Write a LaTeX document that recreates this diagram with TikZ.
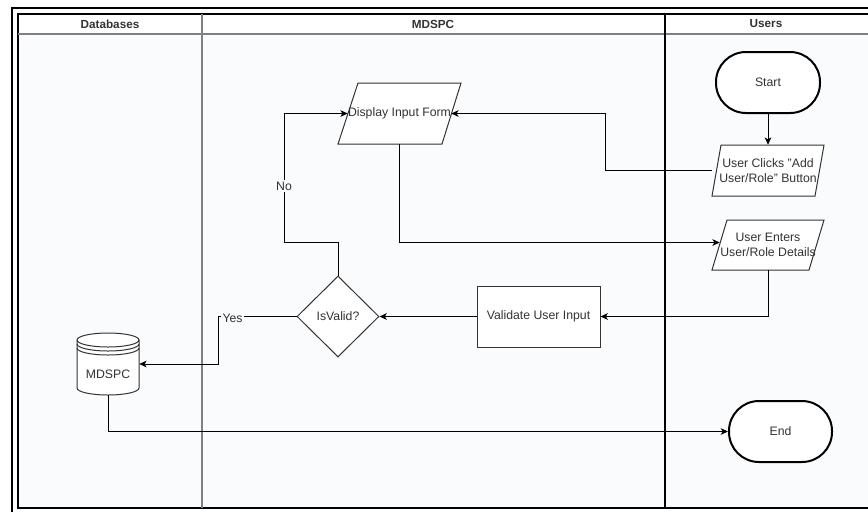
\documentclass[tikz,border=0pt]{standalone}
\usepackage{fontspec}
\setmainfont{Liberation Sans}
\usetikzlibrary{arrows.meta,shapes.geometric,calc}
\definecolor{txt}{RGB}{51,51,51}
\definecolor{lanebg}{RGB}{250,251,252}
\definecolor{divgray}{RGB}{128,128,128}
\tikzset{
  base/.style={font=\fontsize{9.2pt}{11.4pt}\selectfont, text=txt, inner sep=0pt, align=center},
  term/.style={base, draw=black, line width=1.5pt, fill=white, rectangle, rounded corners=22.5pt},
  procbox/.style={base, draw=txt, line width=0.75pt, fill=white, rectangle},
  decide/.style={base, draw=txt, line width=0.75pt, fill=white, diamond},
  ghost/.style={base, rectangle},
  conn/.style={draw=black, line width=0.75pt, -{Stealth[length=5.5pt,width=5pt,inset=1.5pt]}},
  lbl/.style={base, fill=lanebg, inner sep=1pt},
  hdr/.style={font=\bfseries\fontsize{8.8pt}{10pt}\selectfont, text=txt, inner sep=0pt}
}
\begin{document}
\begin{tikzpicture}[x=0.75pt,y=-0.75pt]
\useasboundingbox (0,0) rectangle (868,512);
% lanes background
\fill[lanebg] (18,34) rectangle (868,508);
\fill[white] (18,14) rectangle (868,34);
% outer frame
\draw[black, line width=1.3pt] (12,512) -- (12,8) -- (868,8);
% inner table
\draw[black, line width=0.8pt] (868,14) -- (18,14) -- (18,508) -- (868,508);
\draw[divgray, line width=1.1pt] (18,34) -- (868,34);
\draw[divgray, line width=1.1pt] (202,14) -- (202,508);
\draw[black, line width=0.8pt] (665,14) -- (665,508);
% headers
\node[hdr] (hdb) at (110,24) {Databases};
\node[hdr] (hmd) at (433,24) {MDSPC};
\node[hdr] (hus) at (766,24) {Users};

% nodes
\node[term, minimum width=78pt, minimum height=45.75pt] (start) at (768,82.5) {Start};
\node[term, minimum width=77.25pt, minimum height=45.75pt] (end) at (780.5,431.5) {End};
\node[procbox, minimum width=92.25pt, minimum height=45.75pt] (valid) at (538.5,316.5) {Validate User Input};
\node[decide, minimum width=61.5pt, minimum height=60.75pt] (isvalid) at (338,316.5) {IsValid?};

% parallelogram nodes (bounding boxes)
\node[ghost, minimum width=92.25pt, minimum height=45.75pt] (disp) at (399.5,113.5) {};
\draw[txt, line width=0.75pt, fill=white] (358,83) -- (461,83) -- (442,144) -- (338,144) -- cycle;
\node[base] at (disp) {Display Input Form};

\node[ghost, minimum width=84pt, minimum height=38.25pt] (clicks) at (768,170.5) {};
\draw[txt, line width=0.75pt, fill=white] (721,145) -- (824,145) -- (815,196) -- (712,196) -- cycle;
\node[base] at (clicks) {User Clicks "Add\\User/Role" Button};

\node[ghost, minimum width=84pt, minimum height=37.5pt] (enters) at (768,245) {};
\draw[txt, line width=0.75pt, fill=white] (727,220) -- (824,220) -- (809,270) -- (712,270) -- cycle;
\node[base] at (enters) {User Enters\\User/Role Details};

% database cylinder
\node[ghost, minimum width=46.5pt, minimum height=46.5pt] (db) at (108,364) {};
\draw[txt, line width=0.75pt, fill=white]
  (77,340) -- (77,388) arc[start angle=180, end angle=360, x radius=31, y radius=-7]
  -- (139,340) arc[start angle=0, end angle=180, x radius=31, y radius=-7] -- cycle;
\draw[txt, line width=0.75pt] (77,340) arc[start angle=180, end angle=360, x radius=31, y radius=-7];
\draw[txt, line width=0.75pt] (77,344) arc[start angle=180, end angle=360, x radius=31, y radius=-7];
\draw[txt, line width=0.75pt] (77,348) arc[start angle=180, end angle=360, x radius=31, y radius=-7];
\node[base] at (108,374) {MDSPC};

% connectors
\draw[conn] (start.south) -- (clicks.north);
\draw[conn] (clicks.west) -- (605,170.5) -- (605,113.5) -- ($(disp.east)+(-10,0)$);
\draw[conn] (disp.south) -- (399.5,242.5) -- ($(enters.west)+(8,-2.5)$);
\draw[conn] (enters.south) |- (valid.east);
\draw[conn] (valid.west) -- (isvalid.east);
\draw[conn] (isvalid.north) -- (338,242) -- (284,242) -- (284,113.5) -- ($(disp.west)+(10,0)$);
\node[lbl] (nolbl) at (284,186) {No};
\draw[conn] (isvalid.west) -- (218,316.5) |- (db.east);
\node[lbl, anchor=west] (yeslbl) at (221,318) {Yes};
\draw[conn] (db.south) |- (end.west);
\end{tikzpicture}
\end{document}
